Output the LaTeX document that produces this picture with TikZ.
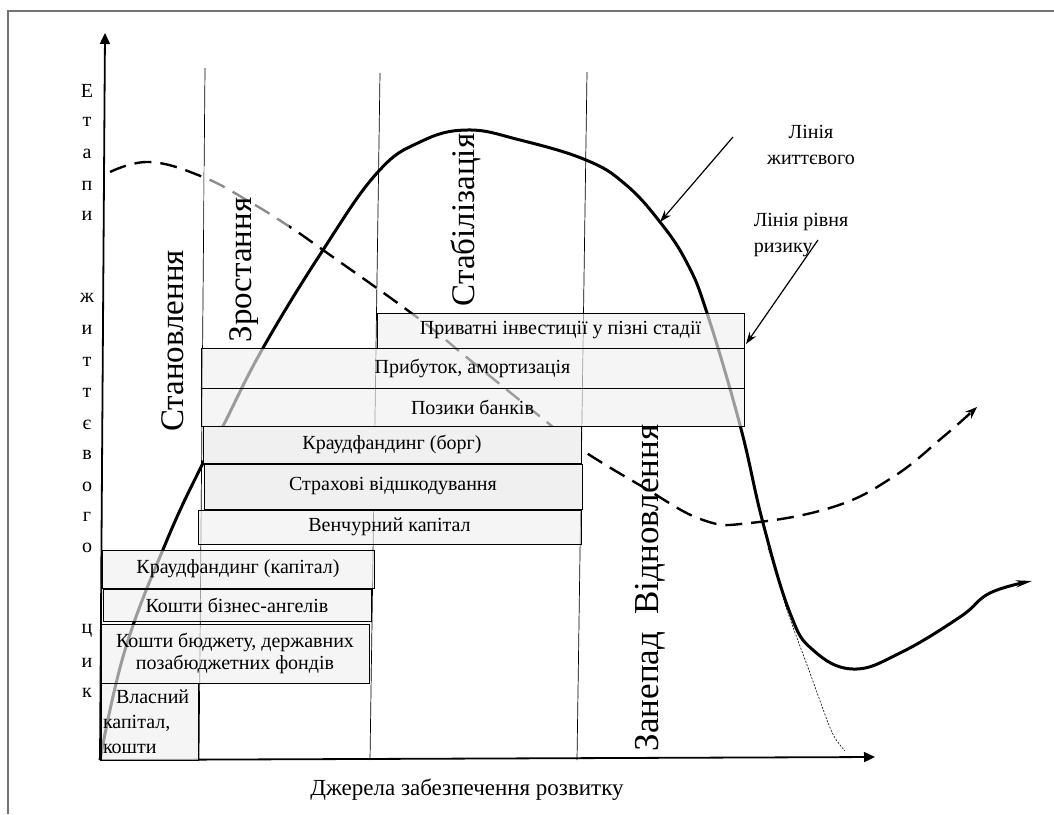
\documentclass[tikz,border=0pt]{standalone}
\usepackage{fontspec}
\setmainfont{Liberation Serif}
\usepackage{tikz}
\usetikzlibrary{arrows.meta}
\newcommand{\srcfont}{\fontsize{20}{22}\selectfont}
\newcommand{\stagefont}{\fontsize{33}{36}\selectfont}

\begin{document}
\begin{tikzpicture}[
    x=1pt, y=-1pt,
    fundbox/.style={draw=black, line width=0.7pt, fill=black!6, fill opacity=0.65, text opacity=1, inner sep=1pt, font=\srcfont, align=center},
    solidbox/.style={fundbox, fill opacity=1},
    stage/.style={rotate=90, font=\stagefont, inner sep=0pt},
    axisletter/.style={font=\fontsize{20}{22}\selectfont, inner sep=0pt},
    divider/.style={line width=0.7pt},
    axis/.style={-{Triangle[length=11pt,width=10pt]}, line width=1.8pt},
    lifeline/.style={line width=3pt, line join=round, -{Stealth[length=16pt,width=7pt]}},
    riskline/.style={line width=2.4pt, dash pattern=on 17pt off 9pt, -{Stealth[length=12pt,width=9pt]}},
    pointer/.style={-{Stealth[length=12pt,width=8pt]}, line width=1.2pt}
]
\useasboundingbox (0,0) rectangle (1054,814);
\draw[black!55, line width=1.5pt] (1054,11) -- (8,11) -- (8,814);

% stage borders
\draw[divider] (205,68) -- (199,760);
\draw[divider] (380,73) -- (370,760);
\draw[divider] (587,72) -- (577,760);

% axes
\coordinate (O) at (100,760);
\coordinate (ytip) at (105,33);
\coordinate (xtip) at (875,757);
\draw[axis] (O) -- (ytip);
\draw[axis] (O) -- (xtip);

% life cycle line
\draw[lifeline] plot[smooth, tension=0.7] coordinates {(100,760) (125,650) (167,540) (203,463) (223,426) (263,348) (323,250) (377,173) (420,142) (467,130) (520,140) (586,160) (625,184) (660,222) (687,263) (707,313) (740,425) (763,523) (790,613) (813,650) (853,669) (900,653) (960,617) (990,593) (1032,581)};
\draw[line width=0.6pt, dash pattern=on 2pt off 1.5pt] plot[smooth] coordinates {(768,548) (788,613) (810,673) (827,720) (835,738) (845,751)};

% risk line
\draw[riskline] plot[smooth, tension=0.7] coordinates {(110,172) (150,162) (203,177) (250,202) (290,227) (323,250) (418,318) (470,360) (553,427) (582,450) (643,487) (703,520) (750,523) (833,507) (893,477) (943,437) (977,407)};
\fill[white, fill opacity=0.55] (204,166) rectangle (289,234);

% sources of funds
\node[fundbox, minimum width=367pt, minimum height=35pt] (priv) at (560.5,330.5) {Приватні інвестиції у пізні стадії};
\node[fundbox, minimum width=543pt, minimum height=40pt] (profit) at (472.5,368) {Прибуток, амортизація};
\node[fundbox, minimum width=543pt, minimum height=38pt] (loans) at (472.5,407) {Позики банків};
\node[solidbox, minimum width=378pt, minimum height=37pt] (cfdebt) at (392,444.5) {Краудфандинг (борг)};
\node[solidbox, minimum width=378pt, minimum height=45pt] (insur) at (393,486.5) {Страхові відшкодування};
\node[fundbox, minimum width=383pt, minimum height=34pt] (venture) at (389.5,527) {Венчурний капітал};
\node[fundbox, minimum width=272pt, minimum height=38pt] (cfequity) at (238,569) {Краудфандинг (капітал)};
\node[fundbox, minimum width=268pt, minimum height=32pt] (angels) at (237,605) {Кошти бізнес-ангелів};
\node[fundbox, minimum width=268pt, minimum height=59pt] (budget) at (235,653.5) {Кошти бюджету, державних\\позабюджетних фондів};
\node[fundbox, minimum width=97pt, minimum height=77pt, text width=93pt, align=left, font={\fontsize{20}{25}\selectfont}] (own) at (149.5,721.5) {\hspace*{13pt}Власний\\капітал,\\кошти};

% stages
\node[stage] (st1) at (173,341) {Становлення};
\node[stage] (st2) at (244,270) {Зростання};
\node[stage, font=\fontsize{33}{36}\selectfont] (st3) at (466,220) {Стабілізація};
\node[stage, font=\fontsize{35}{40}\selectfont] (st4) at (650,588) {Занепад\hspace{0.5em}Відновлення};

% y-axis caption
\foreach \ch/\yy in {Е/91, т/122, а/154, п/186, и/216, ж/298, и/330, т/362, т/393, є/425, в/455, о/487, г/517, о/548, ц/631, и/663, к/693}
  \node[axisletter] (ylet\yy) at (87,\yy) {\ch};

\node[font=\fontsize{23}{26}\selectfont] (xcap) at (467,790) {Джерела забезпечення розвитку};

% legend
\node[font=\srcfont, align=center] (lifelbl) at (811,145) {Лінія\\[4pt]життєвого};
\node[font=\srcfont, align=left] (risklbl) at (801,235) {Лінія рівня\\[4pt]ризику};
\coordinate (lifefrom) at (733,137);
\coordinate (lifeto) at (660,222);
\coordinate (riskfrom) at (818,240);
\coordinate (riskto) at (746,344);
\draw[pointer] (lifefrom) -- (lifeto);
\draw[pointer] (riskfrom) -- (riskto);
\end{tikzpicture}
\end{document}
